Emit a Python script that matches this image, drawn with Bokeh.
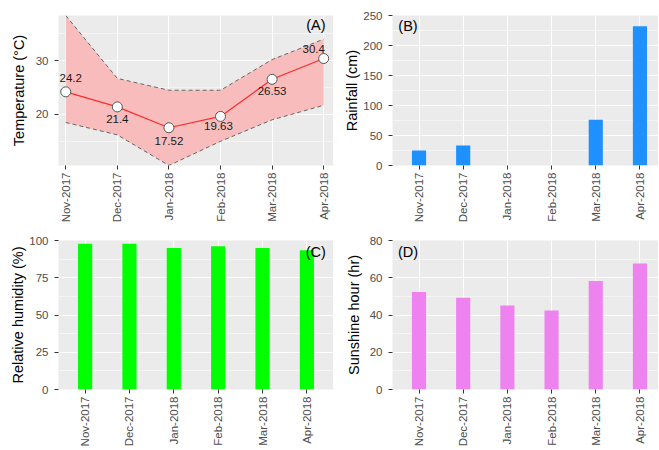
import math
from bokeh.plotting import figure
from bokeh.models import ColumnDataSource, FixedTicker, Range1d, Label
from bokeh.layouts import gridplot
from bokeh.embed import file_html
from bokeh.resources import INLINE
from bokeh.core.properties import value

# ---- data ----
months = ["Nov-2017", "Dec-2017", "Jan-2018", "Feb-2018", "Mar-2018", "Apr-2018"]
temp_mean = [24.2, 21.4, 17.52, 19.63, 26.53, 30.4]
temp_upper = [38.4, 26.7, 24.5, 24.5, 30.2, 34.0]
temp_lower = [18.5, 16.2, 10.5, 15.0, 19.0, 21.7]
rainfall = [25.2, 33.4, 0, 0, 76.2, 232]
humidity = [97.8, 97.8, 94.9, 96.2, 94.9, 93.4]
sunshine = [52.3, 49.3, 45.1, 42.4, 58.3, 67.6]

temp_ticks = [20, 30]
temp_minor = [15, 25, 35]
rain_ticks = [0, 50, 100, 150, 200, 250]
rain_minor = [25, 75, 125, 175, 225]
hum_ticks = [0, 25, 50, 75, 100]
hum_minor = [12.5, 37.5, 62.5, 87.5]
sun_ticks = [0, 20, 40, 60, 80]
sun_minor = [10, 30, 50, 70]

xs = list(range(len(months)))
labels_map = {i: m for i, m in enumerate(months)}

FONT = "Liberation Sans"
BG = "#EBEBEB"


def make_fig(width, height, x_range, y_range, yticks, yminor, ylabel,
             border_left, border_top, border_bottom, title_standoff):
    p = figure(width=width, height=height, x_range=x_range, y_range=y_range,
               output_backend="svg", toolbar_location=None, tools="",
               min_border_left=border_left, min_border_right=0,
               min_border_top=border_top, min_border_bottom=border_bottom)
    p.background_fill_color = BG
    p.border_fill_color = "white"
    p.outline_line_color = None
    p.xaxis.ticker = FixedTicker(ticks=xs, minor_ticks=[])
    p.xaxis.major_label_overrides = labels_map
    p.xaxis.major_label_orientation = math.pi / 2
    p.yaxis.ticker = FixedTicker(ticks=yticks, minor_ticks=yminor)
    for ax in (p.xaxis[0], p.yaxis[0]):
        ax.axis_line_color = None
        ax.major_tick_line_color = "#333333"
        ax.major_tick_in = 0
        ax.major_tick_out = 4
        ax.minor_tick_line_color = None
        ax.major_label_text_font = FONT
        ax.major_label_text_font_size = "11.5px"
        ax.major_label_text_color = "#4D4D4D"
    p.xaxis.major_label_standoff = 3
    p.yaxis.major_label_standoff = 6
    p.yaxis.axis_label = ylabel
    p.yaxis.axis_label_text_font = FONT
    p.yaxis.axis_label_text_font_size = "14.5px"
    p.yaxis.axis_label_text_font_style = "normal"
    p.yaxis.axis_label_text_color = "black"
    p.yaxis.axis_label_standoff = title_standoff
    p.xgrid.grid_line_color = "white"
    p.xgrid.grid_line_width = 1.1
    p.ygrid.grid_line_color = "white"
    p.ygrid.grid_line_width = 1.1
    p.ygrid.minor_grid_line_color = "white"
    p.ygrid.minor_grid_line_width = 0.5
    return p


def panel_label(p, text, x, y):
    p.add_layout(Label(x=x, y=y, text=text, text_font=FONT,
                       text_font_size="14.5px", text_color="black",
                       text_align="center", text_baseline="middle"))


# ---- Panel A: temperature ----
pa = make_fig(333, 225, Range1d(-0.14, 5.19), Range1d(10.5, 38.4),
              temp_ticks, temp_minor, "Temperature (°C)", 58, 15, 57, 6)
src_a = ColumnDataSource(dict(x=xs, mean=temp_mean, up=temp_upper, lo=temp_lower,
                              lab=[str(v) for v in temp_mean],
                              dx=[5, 0, 0, -2, 0, -10],
                              dy=[-14, 12, 13, 10, 12, -10]))
pa.varea(x="x", y1="lo", y2="up", source=src_a, fill_color="#F8BCBC")
pa.line(x="x", y="up", source=src_a, line_color="#666666", line_dash="4 3", line_width=1)
pa.line(x="x", y="lo", source=src_a, line_color="#666666", line_dash="4 3", line_width=1)
pa.line(x="x", y="mean", source=src_a, line_color="#FF2A2A", line_width=1.2)
pa.scatter(x="x", y="mean", source=src_a, size=10, fill_color="white",
           line_color="#555555", line_width=1)
pa.text(x="x", y="mean", text="lab", source=src_a, x_offset="dx", y_offset="dy",
        text_font=value(FONT), text_font_size="11.5px", text_color="#1A1A1A",
        text_align="center", text_baseline="middle")
panel_label(pa, "(A)", 4.85, 36.6)

# ---- Panel B: rainfall ----
pb = make_fig(325, 225, Range1d(-0.6, 5.42), Range1d(0, 250),
              rain_ticks, rain_minor, "Rainfall (cm)", 59, 15, 57, 0)
pb.vbar(x=xs, top=rainfall, width=0.32, fill_color="#1E90FF", line_color=None)
panel_label(pb, "(B)", -0.25, 233)

# ---- Panel C: humidity ----
pc = make_fig(333, 224, Range1d(-0.6, 5.6), Range1d(0, 100),
              hum_ticks, hum_minor, "Relative humidity (%)", 58, 15, 58, 0)
pc.vbar(x=xs, top=humidity, width=0.32, fill_color="#00FF00", line_color=None)
panel_label(pc, "(C)", 5.2, 92.5)

# ---- Panel D: sunshine ----
pd_ = make_fig(325, 224, Range1d(-0.6, 5.42), Range1d(0, 80),
               sun_ticks, sun_minor, "Sunshine hour (hr)", 59, 15, 58, 5)
pd_.vbar(x=xs, top=sunshine, width=0.32, fill_color="#EE82EE", line_color=None)
panel_label(pd_, "(D)", -0.25, 74)

grid = gridplot([[pa, pb], [pc, pd_]], toolbar_location=None)

open("out.html", "w").write(file_html(grid, INLINE))
